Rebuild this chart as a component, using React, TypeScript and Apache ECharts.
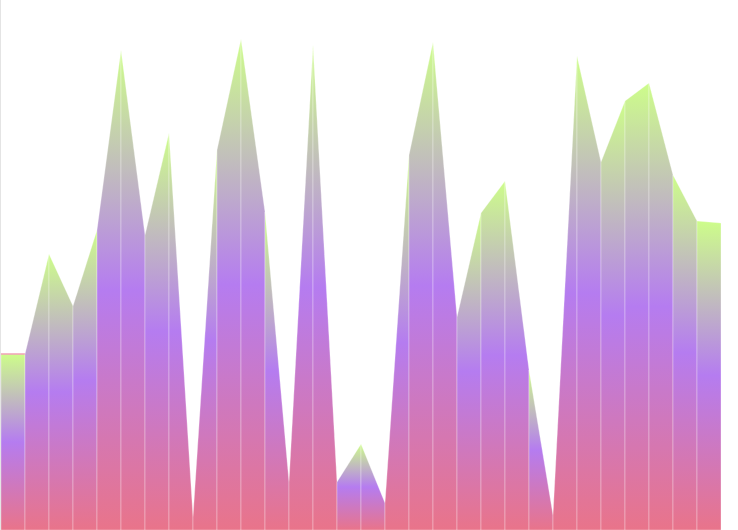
import React, { useEffect, useRef } from "react";
import * as echarts from "echarts";

// Heights of the 31 points (x index 0..30)
const pointIndex: number[] = Array.from({ length: 31 }, (_, i) => i);
const values: number[] = [
  176, 176, 276, 224, 300, 480, 295, 397, 13, 380, 491, 318, 48, 485, 48, 86,
  27, 375, 488, 213, 317, 349, 160, 15, 474, 368, 429, 447, 355, 309, 307,
];

const gradientStops = [
  { offset: 0, color: "#cdfd8a" },
  { offset: 0.5, color: "#b57cf0" },
  { offset: 1, color: "#e9748a" },
];

export default function App() {
  const ref = useRef<HTMLDivElement>(null);
  useEffect(() => {
    if (!ref.current) return;
    const chart = echarts.init(ref.current, undefined, { renderer: "svg" });
    const segs = pointIndex.slice(0, -1).map((i) => [i, values[i], values[i + 1]]);
    chart.setOption({
      animation: false,
      grid: { left: 1, right: 17, top: 0, bottom: 0 },
      xAxis: { type: "value", min: 0, max: 30, show: false },
      yAxis: { type: "value", min: 0, max: 530, show: false },
      graphic: [
        {
          type: "rect",
          left: 0,
          top: 0,
          shape: { width: 1, height: 530 },
          style: { fill: "#e4e4e4" },
          z: 10,
        },
      ],
      series: [
        {
          type: "custom",
          data: segs,
          renderItem: (params: any, api: any) => {
            const i = api.value(0);
            const a = api.coord([i, api.value(1)]);
            const b = api.coord([i + 1, api.value(2)]);
            const a0 = api.coord([i, 0]);
            const b0 = api.coord([i + 1, 0]);
            const children: any[] = [
              {
                type: "polygon",
                shape: { points: [a, b, b0, a0] },
                style: {
                  fill: new echarts.graphic.LinearGradient(0, 0, 0, 1, gradientStops),
                  stroke: "rgba(255,255,255,0.3)",
                  lineWidth: 1,
                },
              },
            ];
            if (i === 0) {
              children.push({
                type: "line",
                shape: { x1: a[0], y1: a[1], x2: b[0], y2: b[1] },
                style: { stroke: "#f0a0b4", lineWidth: 1.5 },
              });
            }
            return { type: "group", children };
          },
        },
      ],
    });
    return () => chart.dispose();
  }, []);
  return (
    <div
      ref={ref}
      style={{ position: "fixed", left: 0, top: 0, width: 738, height: 530 }}
    />
  );
}
